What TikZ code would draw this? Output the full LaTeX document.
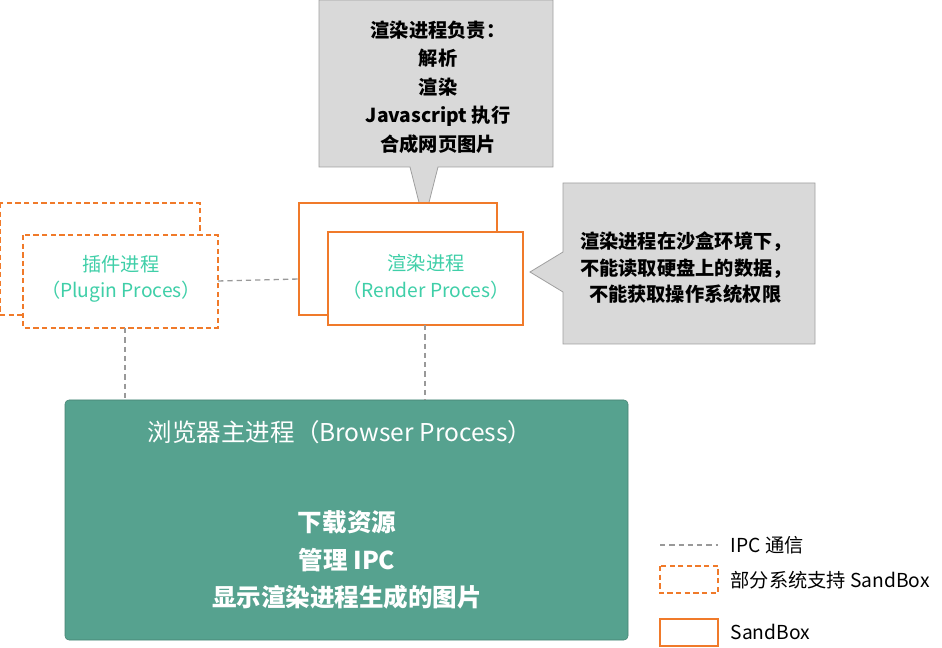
\documentclass[tikz,border=0pt]{standalone}
\usepackage{fontspec}
\setmainfont{Noto Sans CJK SC}
\usepackage{tikz}
\usetikzlibrary{positioning}
\definecolor{sbox}{HTML}{F07A2A}
\definecolor{teal1}{HTML}{3FCFA8}
\definecolor{main}{HTML}{56A28F}
\definecolor{note}{HTML}{D9D9D9}
\tikzset{
  sandbox/.style={draw=sbox, line width=1.3pt, fill=white},
  partbox/.style={sandbox, dashed, dash pattern=on 4pt off 2.5pt},
  ipc/.style={draw=gray!80, line width=1pt, dash pattern=on 4pt off 3pt},
  callout/.style={draw=gray!75, fill=note, line width=0.6pt},
  txt/.style={font=\fontsize{14.5}{20}\selectfont, align=center},
  bold/.style={font=\fontsize{14.5}{21.5}\selectfont\bfseries, align=center},
}
\begin{document}
\begin{tikzpicture}[x=0.0265cm, y=-0.0265cm]
\useasboundingbox (0,0) rectangle (942,648);
% top note
\draw[callout] (319,0) -- (553,0) -- (553,167) -- (438,167) -- (424,222)
  -- (410,167) -- (319,167) -- cycle;
\node[bold] (tasks) at (438,87) {渲染进程负责：\\解析\\渲染\\Javascript 执行\\合成网页图片};
% right note
\draw[callout] (563,183) -- (815,183) -- (815,344) -- (563,344) -- (563,292)
  -- (530,272) -- (563,252) -- cycle;
\node[bold, align=left, font=\fontsize{14.5}{20}\selectfont\bfseries] (limits) at (686,268) {渲染进程在沙盒环境下，\\不能读取硬盘上的数据，\\\ \ 不能获取操作系统权限};
% plugin
\draw[partbox] (0,203) rectangle (200,315);
\draw[partbox] (23,235) rectangle (218,328);
\node[txt, text=teal1] (plugin) at (121,279) {插件进程\\（Plugin Proces）};
\coordinate (plugR) at (218,281);
\coordinate (plugB) at (125,328);
% render
\draw[sandbox] (299,203) rectangle (497,315);
\draw[sandbox] (328,232) rectangle (523,325);
\node[txt, text=teal1] (render) at (426,277) {渲染进程\\（Render Proces）};
\coordinate (rendL) at (299,279);
\coordinate (rendB) at (425,325);
% browser
\draw[fill=main, draw=main!80!black, rounded corners=3pt] (65,400) rectangle (628,640);
\node[font=\fontsize{18.5}{22}\selectfont, text=white] (browser) at (340,432) {浏览器主进程（Browser Process）};
\node[text=white, align=center, font=\fontsize{18.5}{28}\selectfont\bfseries] (jobs) at (347,560) {下载资源\\管理 IPC\\显示渲染进程生成的图片};
\coordinate (brA) at (125,400);
\coordinate (brB) at (425,400);
% ipc links
\draw[ipc] (plugR) -- (rendL);
\draw[ipc] (plugB) -- (brA);
\draw[ipc] (rendB) -- (brB);
% legend
\coordinate (l1) at (660,545);
\coordinate (l2) at (718,545);
\draw[ipc] (l1) -- (l2);
\node[txt, anchor=west] (k1) at (726,545) {IPC 通信};
\draw[partbox] (660,566) rectangle (718,593);
\node[txt, anchor=west] (k2) at (726,580) {部分系统支持 SandBox};
\draw[sandbox] (660,619) rectangle (718,646);
\node[txt, anchor=west] (k3) at (726,632) {SandBox};
\end{tikzpicture}
\end{document}
